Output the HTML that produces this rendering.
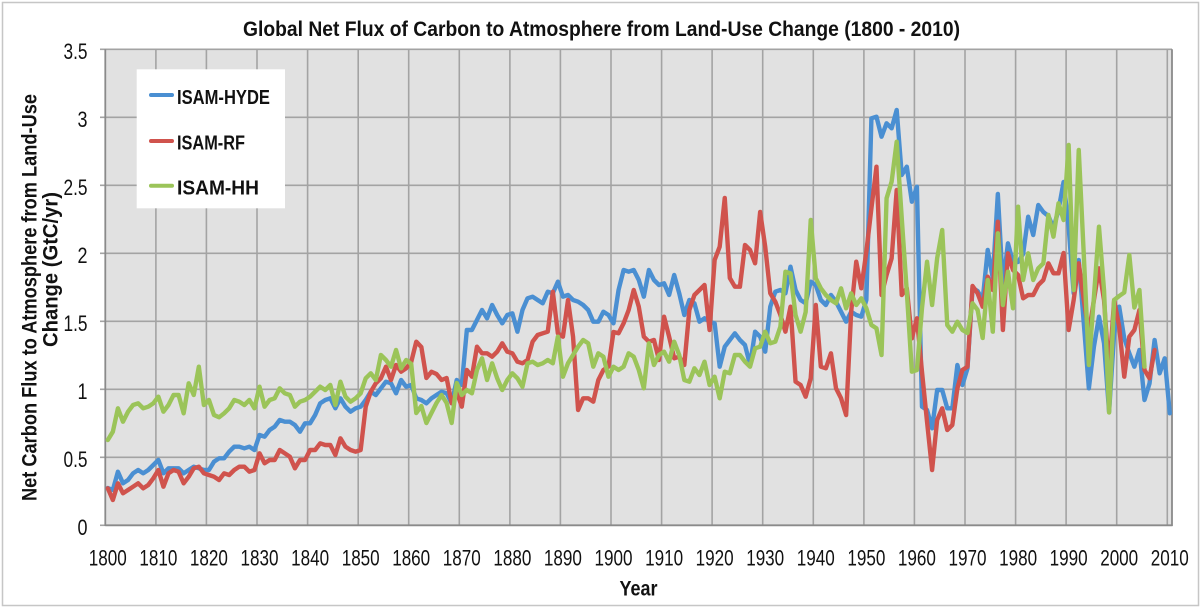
<!DOCTYPE html>
<html>
<head>
<meta charset="utf-8">
<style>
html,body{margin:0;padding:0;background:#fff;}
svg{display:block;}
text{font-family:"Liberation Sans",Arial,sans-serif;fill:#111;}
</style>
</head>
<body>
<svg width="1201" height="608" viewBox="0 0 1201 608" xmlns="http://www.w3.org/2000/svg">
<rect x="0" y="0" width="1201" height="608" fill="#fff"/>
<rect x="2.5" y="2.5" width="1196" height="603" fill="none" stroke="#c6c6c6" stroke-width="1.5"/>

<text x="601.5" y="36" font-size="21" font-weight="bold" text-anchor="middle" textLength="717" lengthAdjust="spacingAndGlyphs">Global Net Flux of Carbon to Atmosphere from Land-Use Change (1800 - 2010)</text>

<!-- plot area -->
<rect x="105.3" y="49.3" width="1066.7" height="476" fill="#e1e1e1"/>
<g stroke="#a3a3a3" stroke-width="1.6">
<line x1="100" y1="457.3" x2="1172" y2="457.3"/>
<line x1="100" y1="389.3" x2="1172" y2="389.3"/>
<line x1="100" y1="321.3" x2="1172" y2="321.3"/>
<line x1="100" y1="253.3" x2="1172" y2="253.3"/>
<line x1="100" y1="185.3" x2="1172" y2="185.3"/>
<line x1="100" y1="117.3" x2="1172" y2="117.3"/>
<line x1="100" y1="49.3" x2="1172" y2="49.3"/>
<line x1="100" y1="525.3" x2="105.3" y2="525.3"/>
<line x1="155.9" y1="49.3" x2="155.9" y2="525.3"/>
<line x1="206.4" y1="49.3" x2="206.4" y2="525.3"/>
<line x1="257.0" y1="49.3" x2="257.0" y2="525.3"/>
<line x1="307.6" y1="49.3" x2="307.6" y2="525.3"/>
<line x1="358.2" y1="49.3" x2="358.2" y2="525.3"/>
<line x1="408.7" y1="49.3" x2="408.7" y2="525.3"/>
<line x1="459.3" y1="49.3" x2="459.3" y2="525.3"/>
<line x1="509.9" y1="49.3" x2="509.9" y2="525.3"/>
<line x1="560.4" y1="49.3" x2="560.4" y2="525.3"/>
<line x1="611.0" y1="49.3" x2="611.0" y2="525.3"/>
<line x1="661.6" y1="49.3" x2="661.6" y2="525.3"/>
<line x1="712.1" y1="49.3" x2="712.1" y2="525.3"/>
<line x1="762.7" y1="49.3" x2="762.7" y2="525.3"/>
<line x1="813.3" y1="49.3" x2="813.3" y2="525.3"/>
<line x1="863.9" y1="49.3" x2="863.9" y2="525.3"/>
<line x1="914.4" y1="49.3" x2="914.4" y2="525.3"/>
<line x1="965.0" y1="49.3" x2="965.0" y2="525.3"/>
<line x1="1015.6" y1="49.3" x2="1015.6" y2="525.3"/>
<line x1="1066.1" y1="49.3" x2="1066.1" y2="525.3"/>
<line x1="1116.7" y1="49.3" x2="1116.7" y2="525.3"/>
<line x1="1167.3" y1="49.3" x2="1167.3" y2="525.3"/>
</g>
<g stroke="#8a8a8a" stroke-width="1.8" fill="none">
<line x1="105.3" y1="49.3" x2="105.3" y2="526"/>
<line x1="105.3" y1="525.3" x2="1172.5" y2="525.3"/>
<line x1="1172" y1="49.3" x2="1172" y2="526"/>
</g>

<!-- series -->
<g transform="translate(107.8,0) scale(5.057,1)" fill="none" stroke-width="4.4" stroke-linejoin="round" stroke-linecap="round">
<polyline vector-effect="non-scaling-stroke" stroke="#4a8fd2" points="0,488 1,490 2,471.7 3,483.3 4,480 5,473.3 6,470 7,473.3 8,470 9,465 10,460 11,473.3 12,468.3 13,468.3 14,468.3 15,473.3 16,470 17,466.7 18,468.3 19,470 20,470 21,461.7 22,458.3 23,458.3 24,451.7 25,446.7 26,446.7 27,448.3 28,446.7 29,450 30,435 31,436.7 32,430 33,426.7 34,420 35,421.7 36,421.7 37,425 38,431.7 39,423.3 40,423.3 41,415 42,403.3 43,400 44,398.3 45,408.3 46,398.3 47,406.7 48,411.7 49,408.3 50,406.7 51,400 52,391.7 53,395 54,388.3 55,381.7 56,383.3 57,393.3 58,380 59,386.7 60,385 61,398.3 62,400 63,403.3 64,398.3 65,395 66,391.7 67,393.3 68,403.3 69,380 70,385 71,330 72,330 73,320 74,310 75,318.3 76,305 77,315 78,323.3 79,315 80,313.3 81,331.7 82,310 83,298.3 84,296.7 85,300 86,303.3 87,291.7 88,293.3 89,281.7 90,296.7 91,295 92,300 93,301.7 94,305 95,310 96,321.7 97,321.7 98,311.7 99,315 100,323.3 101,290 102,270 103,271.7 104,270 105,280 106,296.7 107,270 108,280 109,285 110,283.3 111,295 112,275 113,293.3 114,315 115,300 116,303.3 117,321.7 118,318.3 119,321.7 120,323.3 121,366.7 122,346.7 123,340 124,333.3 125,340 126,345 127,365 128,331.7 129,336.7 130,351.7 131,306.7 132,291.7 133,290 134,293.3 135,266.7 136,290 137,300 138,303.3 139,281.7 140,285 141,300 142,305 143,295 144,301.7 145,311.7 146,321.7 147,311.7 148,315 149,316.7 150,300 151,118.3 152,116.7 153,136.7 154,123.3 155,128.3 156,110 157,175 158,166.7 159,201.7 160,186.7 161,406.7 162,410 163,428.3 164,390 165,390 166,408.3 167,408.3 168,365 169,385 170,368.3 171,288 172,291 173,300 174,250 175,278 176,194 177,285 178,243.3 179,262 180,262 181,254 182,216.7 183,235 184,205 185,212 186,216 187,228 188,210 189,182 190,226.7 191,293.3 192,260 193,323.3 194,388.3 195,346.7 196,316.7 197,343.3 198,411.7 199,333.3 200,306.7 201,338.3 202,353.3 203,366.7 204,350 205,400 206,383.3 207,340 208,373.3 209,358.3 210,413.3"/>
<polyline vector-effect="non-scaling-stroke" stroke="#d0534d" points="0,488.3 1,500 2,483.3 3,493.3 4,490 5,486.7 6,483.3 7,488.3 8,485 9,478.3 10,470 11,486.7 12,473.3 13,470 14,471.7 15,483.3 16,476.7 17,468.3 18,466.7 19,473.3 20,475 21,476.7 22,480 23,473.3 24,475 25,470 26,466.7 27,466.7 28,471.7 29,470 30,453.3 31,463.3 32,460 33,460 34,450 35,453.3 36,456.7 37,468.3 38,460 39,460 40,450 41,450 42,443.3 43,445 44,445 45,455 46,438.3 47,446.7 48,450 49,451.7 50,450 51,406.7 52,391.7 53,383.3 54,378.3 55,366.7 56,380 57,365 58,371.7 59,368.3 60,362 61,341.7 62,347 63,378 64,371.7 65,374 66,380 67,378 68,403.3 69,392 70,406.7 71,370 72,376.7 73,346.7 74,353.3 75,353.3 76,356.7 77,351.7 78,343.3 79,351.7 80,353.3 81,361.7 82,363.3 83,360 84,341.7 85,335 86,333.3 87,331.7 88,291.7 89,333.3 90,336.7 91,300 92,336.7 93,410 94,398.3 95,398.3 96,401.7 97,380 98,370 99,366.7 100,332 101,333.3 102,323.3 103,310 104,290 105,306.7 106,336.7 107,341.7 108,340 109,360 110,316.7 111,336.7 112,358.3 113,356.7 114,365 115,310 116,295 117,290 118,285 119,330 120,260 121,246.7 122,198 123,278 124,286.7 125,286.7 126,245 127,250 128,263.3 129,212 130,246.7 131,293.3 132,301.7 133,315 134,331.7 135,306.7 136,381.7 137,385 138,396.7 139,378.3 140,305 141,366.7 142,368.3 143,353.3 144,388.3 145,398.3 146,415 147,311.7 148,261.7 149,288.3 150,251.7 151,208.3 152,166.7 153,295 154,275 155,258.3 156,190 157,295 158,288.3 159,338.3 160,318.3 161,371.7 162,421.7 163,470 164,420 165,408.3 166,430 167,425 168,388.3 169,370 170,366.7 171,286 172,293.3 173,306.7 174,276.7 175,290 176,221.7 177,330 178,253.3 179,270 180,275 181,298.3 182,295 183,295 184,285 185,280 186,263.3 187,273.3 188,273.3 189,253 190,330 191,300 192,263.3 193,300 194,333.3 195,300 196,268.3 197,300 198,373.3 199,300 200,326.7 201,376.7 202,336.7 203,330 204,310 205,370 206,378.3 207,350"/>
<polyline vector-effect="non-scaling-stroke" stroke="#9bc459" points="0,440 1,431.7 2,408.3 3,421.7 4,411.7 5,405 6,403.3 7,408.3 8,406.7 9,403.3 10,396.7 11,411.7 12,405 13,395 14,395 15,413.3 16,383.3 17,395 18,366.7 19,405 20,400 21,415 22,417.3 23,413.3 24,408.3 25,400 26,401.7 27,405 28,400 29,408.3 30,386.7 31,406.7 32,400 33,398.3 34,388.3 35,393.3 36,395 37,406.7 38,401.7 39,400 40,396.7 41,391.7 42,386.7 43,390 44,385 45,405 46,381.7 47,396.7 48,401.7 49,398.3 50,393.3 51,378.3 52,373.3 53,380 54,355 55,360 56,366.7 57,350 58,368.3 59,360 60,364 61,413 62,406 63,423 64,413 65,403 66,395 67,403 68,423 69,383 70,395 71,390 72,393.3 73,370 74,358.3 75,380 76,363.3 77,378.3 78,390 79,380 80,373.3 81,378.3 82,386.7 83,363.3 84,361.7 85,365 86,363.3 87,360 88,363.3 89,336.7 90,376.7 91,363.3 92,355 93,346.7 94,340 95,343.3 96,366.7 97,353.3 98,356.7 99,376.7 100,366.7 101,370 102,366.7 103,353.3 104,356.7 105,370 106,388.3 107,343.3 108,365 109,355 110,351.7 111,361.7 112,341.7 113,355 114,380 115,381.7 116,368.3 117,375 118,361.7 119,385 120,376.7 121,398.3 122,371.7 123,373.3 124,355 125,355 126,361.7 127,366.7 128,348.3 129,346.7 130,331.7 131,343.3 132,341.7 133,326.7 134,271.7 135,273.3 136,315 137,331.7 138,312 139,220 140,278.3 141,288.3 142,295 143,300 144,303.3 145,288.3 146,308.3 147,293.3 148,305 149,298.3 150,308.3 151,325 152,328.3 153,355 154,198.3 155,181.7 156,141.7 157,218.3 158,291.7 159,371.7 160,370 161,308.3 162,261.7 163,305 164,258.3 165,230 166,325 167,331.7 168,321.7 169,330 170,333 171,303.3 172,310 173,338 174,280 175,331.7 176,233.3 177,305 178,271.7 179,308.3 180,206.7 181,280 182,253.3 183,280 184,268.3 185,263.3 186,215 187,236.7 188,203.3 189,220 190,145 191,290 192,150 193,255 194,365 195,297 196,226.7 197,290 198,412.5 199,300 200,296 201,292.5 202,255 203,307.5 204,290 205,366.7"/>
</g>

<!-- legend -->
<rect x="136.7" y="69.3" width="148.3" height="139" fill="#fff"/>
<g stroke-width="4" stroke-linecap="round">
<line x1="151" y1="95" x2="172" y2="95" stroke="#4a8fd2"/>
<line x1="151" y1="141" x2="172" y2="141" stroke="#d0534d"/>
<line x1="151" y1="185.7" x2="172" y2="185.7" stroke="#9bc459"/>
</g>
<text x="177" y="104" font-size="20.5" font-weight="bold" textLength="93" lengthAdjust="spacingAndGlyphs">ISAM-HYDE</text>
<text x="177" y="149.3" font-size="20.5" font-weight="bold" textLength="68" lengthAdjust="spacingAndGlyphs">ISAM-RF</text>
<text x="177" y="194.3" font-size="20.5" font-weight="bold" textLength="82" lengthAdjust="spacingAndGlyphs">ISAM-HH</text>

<!-- y tick labels -->
<g font-size="22" text-anchor="end">
<text x="87.5" y="59" textLength="24" lengthAdjust="spacingAndGlyphs">3.5</text>
<text x="87.5" y="127" textLength="10" lengthAdjust="spacingAndGlyphs">3</text>
<text x="87.5" y="195" textLength="24" lengthAdjust="spacingAndGlyphs">2.5</text>
<text x="87.5" y="263" textLength="10" lengthAdjust="spacingAndGlyphs">2</text>
<text x="87.5" y="331" textLength="24" lengthAdjust="spacingAndGlyphs">1.5</text>
<text x="87.5" y="399" textLength="10" lengthAdjust="spacingAndGlyphs">1</text>
<text x="87.5" y="467" textLength="24" lengthAdjust="spacingAndGlyphs">0.5</text>
<text x="87.5" y="535" textLength="10" lengthAdjust="spacingAndGlyphs">0</text>
</g>

<!-- x tick labels -->
<g font-size="22" text-anchor="middle">
<text x="107.8" y="565.5" textLength="38" lengthAdjust="spacingAndGlyphs">1800</text>
<text x="158.4" y="565.5" textLength="38" lengthAdjust="spacingAndGlyphs">1810</text>
<text x="208.9" y="565.5" textLength="38" lengthAdjust="spacingAndGlyphs">1820</text>
<text x="259.5" y="565.5" textLength="38" lengthAdjust="spacingAndGlyphs">1830</text>
<text x="310.1" y="565.5" textLength="38" lengthAdjust="spacingAndGlyphs">1840</text>
<text x="360.7" y="565.5" textLength="38" lengthAdjust="spacingAndGlyphs">1850</text>
<text x="411.2" y="565.5" textLength="38" lengthAdjust="spacingAndGlyphs">1860</text>
<text x="461.8" y="565.5" textLength="38" lengthAdjust="spacingAndGlyphs">1870</text>
<text x="512.4" y="565.5" textLength="38" lengthAdjust="spacingAndGlyphs">1880</text>
<text x="562.9" y="565.5" textLength="38" lengthAdjust="spacingAndGlyphs">1890</text>
<text x="613.5" y="565.5" textLength="38" lengthAdjust="spacingAndGlyphs">1900</text>
<text x="664.1" y="565.5" textLength="38" lengthAdjust="spacingAndGlyphs">1910</text>
<text x="714.6" y="565.5" textLength="38" lengthAdjust="spacingAndGlyphs">1920</text>
<text x="765.2" y="565.5" textLength="38" lengthAdjust="spacingAndGlyphs">1930</text>
<text x="815.8" y="565.5" textLength="38" lengthAdjust="spacingAndGlyphs">1940</text>
<text x="866.4" y="565.5" textLength="38" lengthAdjust="spacingAndGlyphs">1950</text>
<text x="916.9" y="565.5" textLength="38" lengthAdjust="spacingAndGlyphs">1960</text>
<text x="967.5" y="565.5" textLength="38" lengthAdjust="spacingAndGlyphs">1970</text>
<text x="1018.1" y="565.5" textLength="38" lengthAdjust="spacingAndGlyphs">1980</text>
<text x="1068.6" y="565.5" textLength="38" lengthAdjust="spacingAndGlyphs">1990</text>
<text x="1119.2" y="565.5" textLength="38" lengthAdjust="spacingAndGlyphs">2000</text>
<text x="1169.8" y="565.5" textLength="38" lengthAdjust="spacingAndGlyphs">2010</text>
</g>

<!-- axis titles -->
<text x="638.5" y="595.5" font-size="21" font-weight="bold" text-anchor="middle" textLength="38" lengthAdjust="spacingAndGlyphs">Year</text>
<text transform="translate(36.5,297.5) rotate(-90)" x="0" y="0" font-size="21" font-weight="bold" text-anchor="middle" textLength="407" lengthAdjust="spacingAndGlyphs">Net Carbon Flux to Atmosphere from Land-Use</text>
<text transform="translate(57.5,269.5) rotate(-90)" x="0" y="0" font-size="21" font-weight="bold" text-anchor="middle" textLength="155" lengthAdjust="spacingAndGlyphs">Change (GtC/yr)</text>
</svg>
</body>
</html>
